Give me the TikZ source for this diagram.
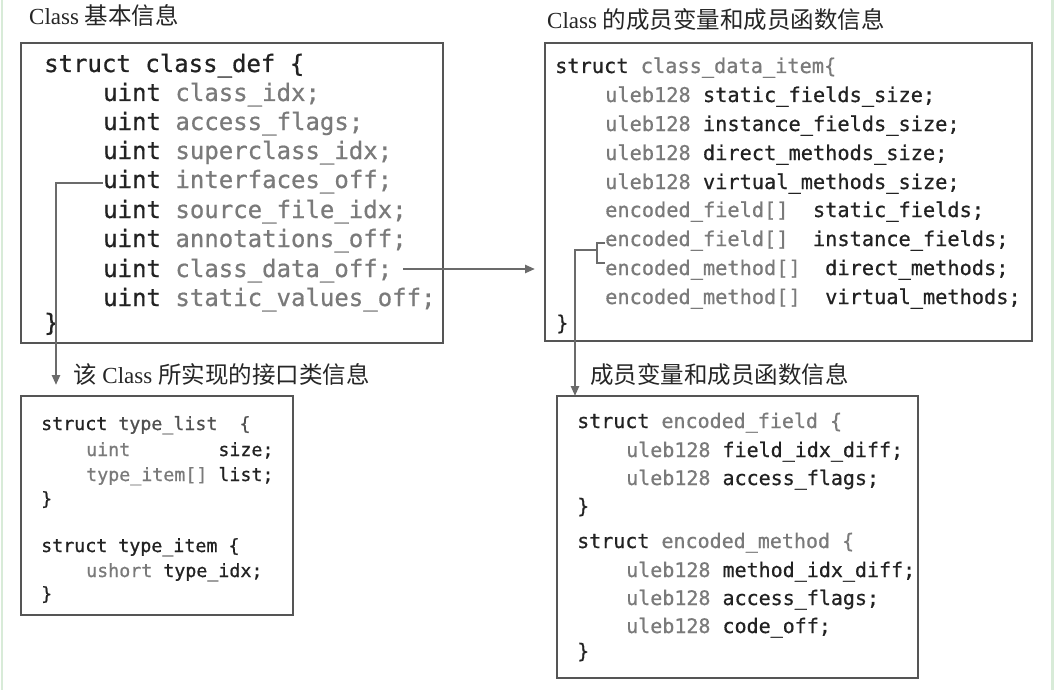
\documentclass[tikz,border=0pt]{standalone}
\usepackage{fontspec}
\setmainfont{Liberation Serif}
\newfontfamily\cjk{Noto Sans CJK SC}
\newfontfamily\code[FakeBold=0.7]{DejaVu Sans Mono}
\usetikzlibrary{arrows.meta}
\definecolor{dk}{HTML}{222222}
\definecolor{lt}{HTML}{7A7A7A}
\definecolor{md}{HTML}{505050}
\definecolor{edgecol}{HTML}{555555}
\definecolor{conncol}{HTML}{6B6B6B}
\definecolor{sidecol}{HTML}{D8EBD8}
\newcommand\Dk[1]{\textcolor{dk}{#1}}
\newcommand\Lt[1]{\textcolor{lt}{#1}}
\newcommand\Md[1]{\textcolor{md}{#1}}
\newcommand\Cj[1]{{\cjk\fontsize{23.5}{27}\selectfont #1}}
\begin{document}
\begin{tikzpicture}[x=1pt,y=-1pt,
  box/.style={draw=edgecol, line width=1.8pt, inner sep=0pt, outer sep=0pt, rectangle},
  title/.style={anchor=base west, inner sep=0pt, text=black!85, font=\fontsize{23}{27}\selectfont},
  ca/.style={anchor=base west, inner sep=0pt, font=\code\fontsize{24}{29}\selectfont},
  cb/.style={anchor=base west, inner sep=0pt, font=\code\fontsize{20.3}{24}\selectfont},
  cc/.style={anchor=base west, inner sep=0pt, font=\code\fontsize{18.3}{22}\selectfont},
  cd/.style={anchor=base west, inner sep=0pt, font=\code\fontsize{20}{24}\selectfont},
  conn/.style={draw=conncol, line width=2.4pt},
  tip/.style={-{Triangle[length=10pt,width=8pt]}}
]
\useasboundingbox (0,0) rectangle (1056,690);
\fill[white] (0,0) rectangle (1056,690);
\draw[sidecol, line width=2.5pt] (2,0) -- (2,690);
\draw[sidecol, line width=3pt] (1052,0) -- (1052,690);

% boxes
\node[box, minimum width=422pt, minimum height=300pt] (b1) at (232,193) {};
\node[box, minimum width=487pt, minimum height=298pt] (b2) at (788.5,192) {};
\node[box, minimum width=272pt, minimum height=219pt] (b3) at (157,505.5) {};
\node[box, minimum width=361pt, minimum height=282pt] (b4) at (737.5,537) {};

% titles
\node[title] (t1) at (29,25) {Class \Cj{基本信息}};
\node[title] (t2) at (547,29) {Class \Cj{的成员变量和成员函数信息}};
\node[title] (t3) at (73,383) {\Cj{该} Class \Cj{所实现的接口类信息}};
\node[title] (t4) at (590,383) {\Cj{成员变量和成员函数信息}};

% box 1
\node[ca] (l10) at (44,72)  {\Dk{struct class\_def \{}};
\node[ca] (l11) at (103,101) {\Dk{uint} \Lt{class\_idx;}};
\node[ca] (l12) at (103,130) {\Dk{uint} \Lt{access\_flags;}};
\node[ca] (l13) at (103,159) {\Dk{uint} \Lt{superclass\_idx;}};
\node[ca] (l14) at (103,188) {\Dk{uint} \Lt{interfaces\_off;}};
\node[ca] (l15) at (103,218) {\Dk{uint} \Lt{source\_file\_idx;}};
\node[ca] (l16) at (103,247) {\Dk{uint} \Lt{annotations\_off;}};
\node[ca] (l17) at (103,277) {\Dk{uint} \Lt{class\_data\_off;}};
\node[ca] (l18) at (103,306) {\Dk{uint} \Lt{static\_values\_off;}};
\node[ca] (l19) at (44,331) {\Dk{\}}};

% box 2
\node[cb] (l20) at (555,73)  {\Dk{struct} \Lt{class\_data\_item\{}};
\node[cb] (l21) at (605,102) {\Lt{uleb128} \Dk{static\_fields\_size;}};
\node[cb] (l22) at (605,131) {\Lt{uleb128} \Dk{instance\_fields\_size;}};
\node[cb] (l23) at (605,160) {\Lt{uleb128} \Dk{direct\_methods\_size;}};
\node[cb] (l24) at (605,189) {\Lt{uleb128} \Dk{virtual\_methods\_size;}};
\node[cb] (l25) at (605,217) {\Lt{encoded\_field[]}\ \ \Dk{static\_fields;}};
\node[cb] (l26) at (605,246) {\Lt{encoded\_field[]}\ \ \Dk{instance\_fields;}};
\node[cb] (l27) at (605,275) {\Lt{encoded\_method[]}\ \ \Dk{direct\_methods;}};
\node[cb] (l28) at (605,304) {\Lt{encoded\_method[]}\ \ \Dk{virtual\_methods;}};
\node[cb] (l29) at (556,330) {\Dk{\}}};

% box 3
\node[cc] (l30) at (41,430) {\Dk{struct} \Md{type\_list\ \ \{}};
\node[cc] (l31) at (86,456) {\Lt{uint}\ \ \ \ \ \ \ \ \Dk{size;}};
\node[cc] (l32) at (86,481) {\Lt{type\_item[]} \Dk{list;}};
\node[cc] (l33) at (41,505) {\Dk{\}}};
\node[cc] (l34) at (41,552) {\Dk{struct type\_item \{}};
\node[cc] (l35) at (86,577) {\Lt{ushort} \Dk{type\_idx;}};
\node[cc] (l36) at (41,600) {\Dk{\}}};

% box 4
\node[cd] (l40) at (577,428) {\Dk{struct} \Lt{encoded\_field \{}};
\node[cd] (l41) at (626,457) {\Lt{uleb128} \Dk{field\_idx\_diff;}};
\node[cd] (l42) at (626,485) {\Lt{uleb128} \Dk{access\_flags;}};
\node[cd] (l43) at (577,513) {\Dk{\}}};
\node[cd] (l44) at (577,548) {\Dk{struct} \Lt{encoded\_method \{}};
\node[cd] (l45) at (626,577) {\Lt{uleb128} \Dk{method\_idx\_diff;}};
\node[cd] (l46) at (626,605) {\Lt{uleb128} \Dk{access\_flags;}};
\node[cd] (l47) at (626,633) {\Lt{uleb128} \Dk{code\_off;}};
\node[cd] (l48) at (577,658) {\Dk{\}}};

% connector 1: interfaces_off -> type_list
\coordinate (a1s) at ([yshift=5pt]l14.base west);
\coordinate (a1e) at (56,385);
\draw[conn,tip] (a1s) -| (a1e);

% connector 2: class_data_off -> class_data_item
\coordinate (a2s) at ([xshift=11pt,yshift=8pt]l17.base east);
\path (b2.west) ++(-10pt,0pt) coordinate (a2x);
\draw[conn,tip] (a2s) -- (a2s -| a2x);

% connector 3: bracket -> encoded_field / encoded_method
\coordinate (brt) at (605,243);
\coordinate (brtl) at (597,243);
\coordinate (brbl) at (597,263);
\coordinate (brb) at (605,263);
\coordinate (brm) at (597,250);
\draw[conn, line width=2pt] (brt) -- (brtl) -- (brbl) -- (brb);
\path (b4.north west) ++(18pt,0pt) coordinate (a3e);
\draw[conn,tip] (brm) -| (a3e);
\end{tikzpicture}
\end{document}
